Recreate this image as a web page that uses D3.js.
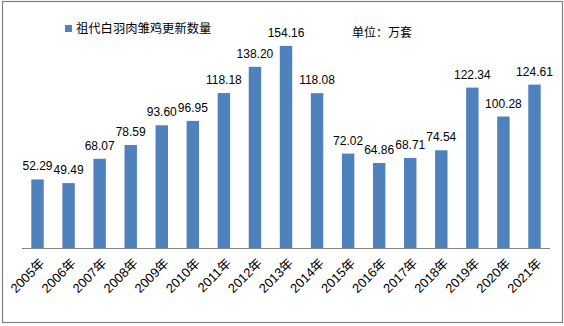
<!DOCTYPE html>
<html>
<head>
<meta charset="utf-8">
<script src="https://cdn.jsdelivr.net/npm/d3@7"></script>
<style>
  html, body { margin: 0; padding: 0; background: #fff; }
  svg { display: block; }
  text { font-family: "Liberation Sans", "Noto Sans CJK SC", sans-serif; fill: #000; }
</style>
</head>
<body>
<svg id="chart" width="564" height="326"></svg>
<script>
// Grandparent white-feather broiler chick renewals, 10k sets per year
const years = ["2005年","2006年","2007年","2008年","2009年","2010年","2011年","2012年","2013年",
               "2014年","2015年","2016年","2017年","2018年","2019年","2020年","2021年"];
const renewals = [52.29, 49.49, 68.07, 78.59, 93.60, 96.95, 118.18, 138.20, 154.16,
                  118.08, 72.02, 64.86, 68.71, 74.54, 122.34, 100.28, 124.61];
const seriesName = "祖代白羽肉雏鸡更新数量";
const unitText = "单位：万套";

const W = 564, H = 326;
const plot = { left: 22, right: 550, top: 12, bottom: 248 };
const barColor = "#4F81BD";

const svg = d3.select("#chart");

// outer chart frame
svg.append("rect")
  .attr("x", 2.5).attr("y", 1.5)
  .attr("width", 560).attr("height", 321)
  .attr("fill", "#fff")
  .attr("stroke", "#808080")
  .attr("stroke-width", 1.2);

const x = d3.scaleBand()
  .domain(years)
  .range([plot.left, plot.right])
  .paddingInner(0.6)
  .paddingOuter(0.3);

const y = d3.scaleLinear()
  .domain([0, 180])
  .range([plot.bottom, plot.top]);

const data = years.map((yr, i) => ({ yr, v: renewals[i] }));

// bars
svg.append("g")
  .selectAll("rect")
  .data(data)
  .join("rect")
  .attr("x", d => x(d.yr))
  .attr("y", d => y(d.v))
  .attr("width", x.bandwidth())
  .attr("height", d => y(0) - y(d.v))
  .attr("fill", barColor);

// value labels
svg.append("g")
  .selectAll("text")
  .data(data)
  .join("text")
  .attr("x", d => x(d.yr) + x.bandwidth() / 2)
  .attr("y", d => y(d.v) - 9)
  .attr("text-anchor", "middle")
  .style("font-size", "12px")
  .text(d => d.v.toFixed(2));

// category axis
const xAxis = d3.axisBottom(x).tickSize(0).tickPadding(0);
const gx = svg.append("g")
  .attr("transform", `translate(0,${plot.bottom})`)
  .call(xAxis);
gx.select(".domain")
  .attr("stroke", "#868686")
  .attr("stroke-width", 1.2)
  .attr("d", `M${plot.left},0.5H${plot.right}`);
gx.selectAll(".tick text")
  .attr("x", 0).attr("y", 0).attr("dy", 0)
  .attr("text-anchor", "end")
  .attr("transform", "translate(8,16) rotate(-45)")
  .style("font-size", "13px")
  .style("font-family", "\"Liberation Sans\", \"Noto Sans CJK SC\", sans-serif")
  .attr("fill", "#000");

// legend
const lg = svg.append("g");
lg.append("rect")
  .attr("x", 65).attr("y", 25)
  .attr("width", 7).attr("height", 7)
  .attr("fill", barColor);
lg.append("text")
  .attr("x", 76).attr("y", 33)
  .style("font-size", "12.3px")
  .text(seriesName);

// unit note
svg.append("text")
  .attr("x", 352).attr("y", 37)
  .style("font-size", "12px")
  .text(unitText);
</script>
</body>
</html>
